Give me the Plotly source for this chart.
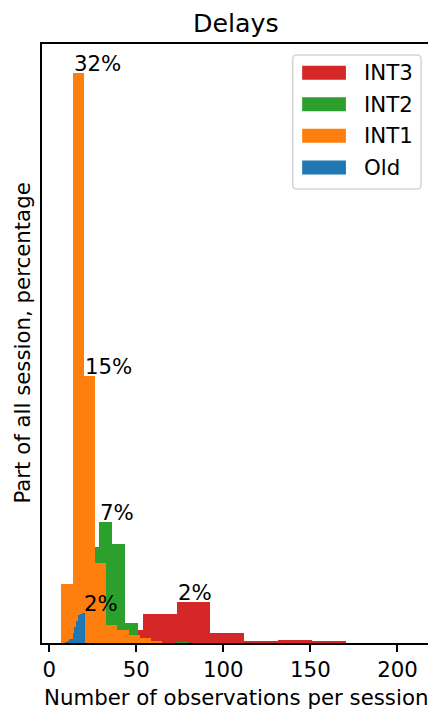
import plotly.graph_objects as go

# ---------------- data (percent of all sessions) ----------------
series_names = ["INT3", "INT2", "INT1", "Old"]          # drawing order (first = back)
series_colors = ["#d62728", "#2ca02c", "#ff7f0e", "#1f77b4"]

int3_edges = [14.9, 34.3, 53.8, 73.2, 92.6, 112.0, 131.4, 150.9, 170.3, 189.7, 209.1]
int3_pct = [0.3, 0.73, 1.61, 2.29, 0.54, 0.13, 0.18, 0.07, 0.0, 0.0]

int2_edges = [6.7, 14.1, 21.5, 28.9, 36.2, 43.6, 51.0, 58.3, 65.7, 73.1, 80.4]
int2_pct = [1.0, 2.5, 5.4, 6.76, 5.56, 1.14, 0.15, 0.0, 0.0, 0.05]

int1_edges = [6.9, 13.4, 19.8, 26.3, 32.7, 39.1, 45.6, 52.0, 58.4, 64.8, 71.3]
int1_pct = [3.3, 32.0, 15.0, 4.48, 1.01, 0.73, 0.47, 0.26, 0.07, 0.0]

old_edges = [9.2, 10.3, 11.4, 12.5, 13.6, 14.8, 15.9, 17.0, 18.1, 19.2, 20.3]
old_pct = [0.04, 0.06, 0.2, 0.25, 0.55, 0.9, 1.25, 1.55, 1.62, 1.67]

# peak labels: (series, bin index, text)
peak_labels = [("INT1", 1, "32%"), ("INT1", 2, "15%"), ("INT2", 3, "7%"),
               ("Old", 9, "2%"), ("INT3", 3, "2%")]

x_ticks = [0, 50, 100, 150, 200]
title_text = "Delays"
x_title = "Number of observations per session"
y_title = "Part of all session, percentage"

series = {
    "INT3": (int3_edges, int3_pct),
    "INT2": (int2_edges, int2_pct),
    "INT1": (int1_edges, int1_pct),
    "Old": (old_edges, old_pct),
}

# ---------------- layout geometry ----------------
# The page body has an 8px margin, so the figure is shrunk by 8px and
# all page-pixel positions below are measured in the 436x711 window.
OFF = 8
W, H = 436 - OFF, 711 - OFF
PL, PR, PT, PB = 42, 432, 44, 643          # plot area in window pixels
ML, MT = PL - OFF, PT - OFF
MR, MB = 436 - PR, 711 - PB
PW, PH = PR - PL, PB - PT
FONT = "DejaVu Sans"
FS = 21.3
FS_TITLE = 25.3
PX_PER_UNIT = 1.7505
X0_PX = 49.2


def px_x(p):
    return (p - PL) / PW


def px_y(p):
    return (PB - p) / PH


fig = go.Figure()
for name, color in zip(series_names, series_colors):
    edges, pct = series[name]
    centers = [(a + b) / 2 for a, b in zip(edges[:-1], edges[1:])]
    widths = [b - a for a, b in zip(edges[:-1], edges[1:])]
    fig.add_trace(go.Bar(x=centers, y=pct, width=widths, name=name,
                         marker=dict(color=color, line=dict(width=0)),
                         opacity=1, showlegend=False, hoverinfo="x+y"))

annotations = []
for name, idx, txt in peak_labels:
    edges, pct = series[name]
    annotations.append(dict(x=edges[idx], y=pct[idx], xref="x", yref="y", text=txt,
                            showarrow=False, xanchor="left", yanchor="bottom",
                            yshift=-5, xshift=-1,
                            font=dict(family=FONT, size=FS, color="black")))

# title and axis titles
annotations.append(dict(x=0.5, y=px_y(23.2), xref="paper", yref="paper", text=title_text,
                        showarrow=False, xanchor="center", yanchor="middle",
                        font=dict(family=FONT, size=FS_TITLE, color="black")))
annotations.append(dict(x=0.5, y=px_y(697.5), xref="paper", yref="paper", text=x_title,
                        showarrow=False, xanchor="center", yanchor="middle",
                        font=dict(family=FONT, size=FS, color="black")))
annotations.append(dict(x=px_x(22), y=0.5, xref="paper", yref="paper", text=y_title,
                        showarrow=False, xanchor="center", yanchor="middle", textangle=-90,
                        font=dict(family=FONT, size=FS, color="black")))

# manual legend (matplotlib style)
shapes = []
fx0, fy0, fx1, fy1, r = 294, 55, 423, 189, 4
path = (f"M {px_x(fx0 + r)} {px_y(fy0)} L {px_x(fx1 - r)} {px_y(fy0)} "
        f"Q {px_x(fx1)} {px_y(fy0)} {px_x(fx1)} {px_y(fy0 + r)} "
        f"L {px_x(fx1)} {px_y(fy1 - r)} Q {px_x(fx1)} {px_y(fy1)} {px_x(fx1 - r)} {px_y(fy1)} "
        f"L {px_x(fx0 + r)} {px_y(fy1)} Q {px_x(fx0)} {px_y(fy1)} {px_x(fx0)} {px_y(fy1 - r)} "
        f"L {px_x(fx0)} {px_y(fy0 + r)} Q {px_x(fx0)} {px_y(fy0)} {px_x(fx0 + r)} {px_y(fy0)} Z")
shapes.append(dict(type="path", path=path, xref="paper", yref="paper",
                   line=dict(color="#d6d6d6", width=1.6), fillcolor="rgba(255,255,255,0.8)",
                   layer="above"))
row_y = [72.7, 104.2, 135.8, 167.4]
for name, color, ry in zip(series_names, series_colors, row_y):
    shapes.append(dict(type="rect", xref="paper", yref="paper",
                       x0=px_x(303.5), x1=px_x(347.5), y0=px_y(ry - 7), y1=px_y(ry + 7),
                       line=dict(width=0), fillcolor=color, layer="above"))
    annotations.append(dict(x=px_x(363.5), y=px_y(ry), xref="paper", yref="paper", text=name,
                            showarrow=False, xanchor="left", yanchor="middle",
                            font=dict(family=FONT, size=FS, color="black")))

fig.update_layout(
    width=W, height=H,
    margin=dict(l=ML, r=MR, t=MT, b=MB, pad=0),
    paper_bgcolor="white", plot_bgcolor="white",
    barmode="overlay", bargap=0,
    showlegend=False,
    annotations=annotations, shapes=shapes,
    font=dict(family=FONT, size=FS, color="black"),
    xaxis=dict(range=[-(X0_PX - PL) / PX_PER_UNIT, (PR - X0_PX) / PX_PER_UNIT],
               tickvals=x_ticks, ticktext=[str(v) for v in x_ticks],
               ticks="outside", ticklen=7, tickwidth=1.6, tickcolor="black",
               showline=True, linecolor="black", linewidth=1.6, mirror=True,
               showgrid=False, zeroline=False,
               tickfont=dict(family=FONT, size=FS, color="black")),
    yaxis=dict(range=[0, 32.0 * 1.05], showticklabels=False, ticks="",
               showline=True, linecolor="black", linewidth=1.6, mirror=True,
               showgrid=False, zeroline=False),
)

fig.write_html("out.html")
